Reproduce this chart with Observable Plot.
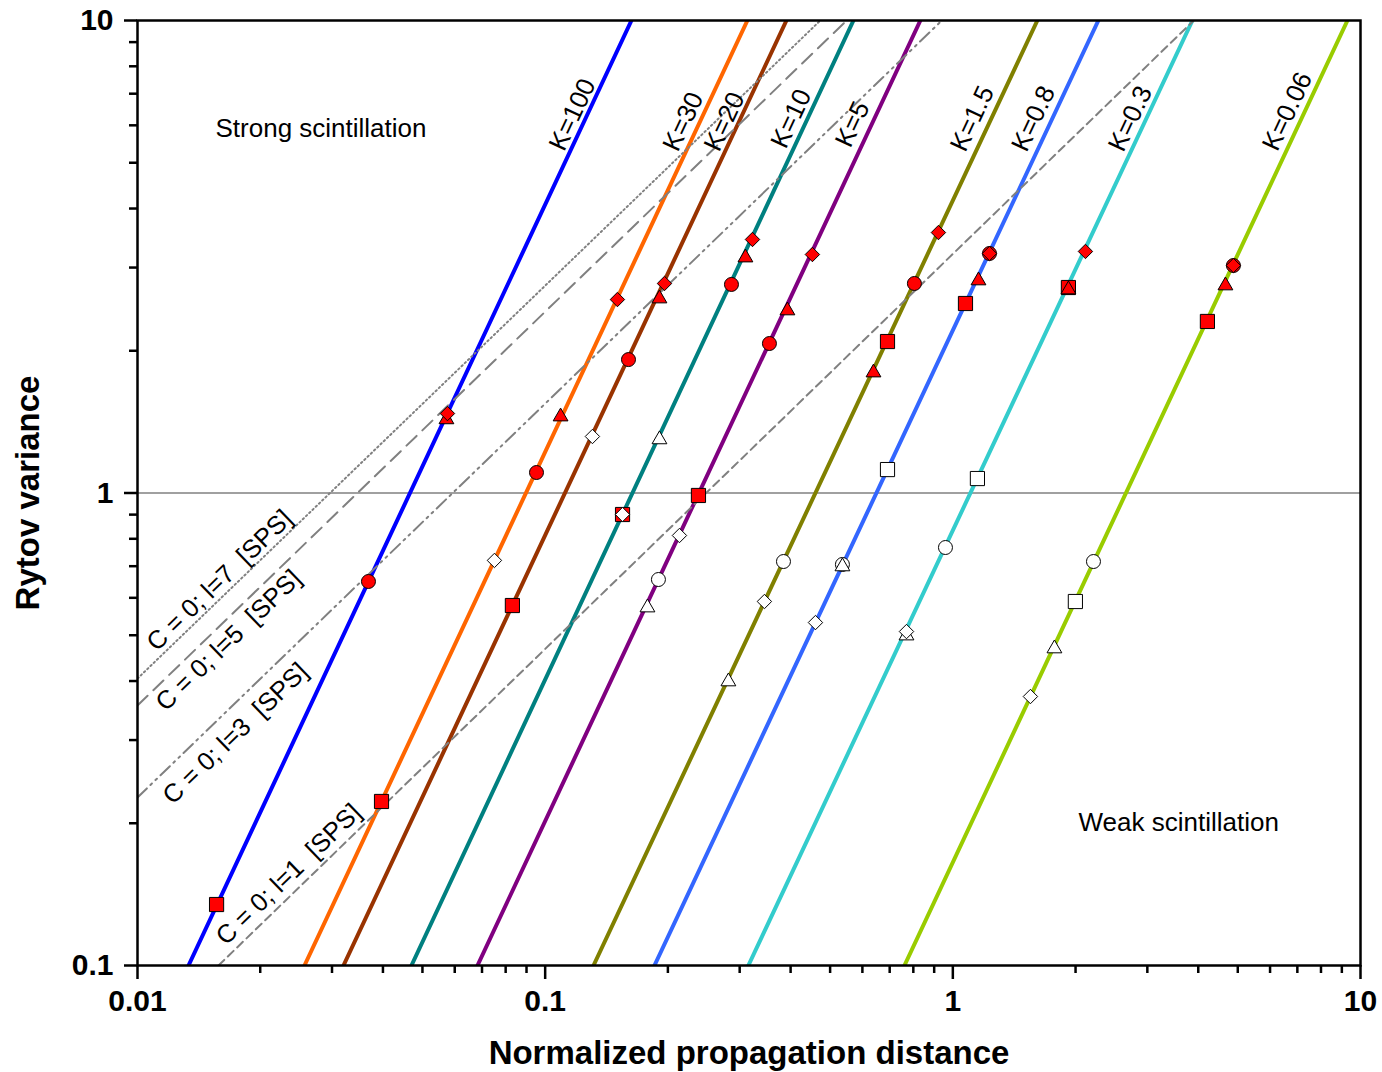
<!DOCTYPE html>
<html>
<head>
<meta charset="utf-8">
<script src="https://cdn.jsdelivr.net/npm/d3@7"></script>
<script src="https://cdn.jsdelivr.net/npm/@observablehq/plot@0.6"></script>
<style>
html, body { margin: 0; padding: 0; background: #fff; }
#chart svg text { white-space: pre; }
</style>
</head>
<body>
<div id="chart"></div>
<script>
// ---------- DATA ----------
// Rytov-variance lines for each K: x (normalized distance) read at variance 0.1 and at variance 10
const kValues = ["100", "30", "20", "10", "5", "1.5", "0.8", "0.3", "0.06"];
const kLineY = [0.1, 10];
const kXAtLow = [0.01334, 0.02568, 0.03201, 0.04699, 0.06823, 0.1314, 0.1854, 0.3151, 0.7609];
const kXAtHigh = [0.1628, 0.3134, 0.3907, 0.5705, 0.8325, 1.612, 2.275, 3.870, 9.29];
const kLabelX = [0.1167, 0.2183, 0.2754, 0.4018, 0.5677, 1.117, 1.577, 2.727, 6.62];
const kLabelY = [6.32, 6.11, 6.11, 6.20, 6.03, 6.20, 6.20, 6.20, 6.42];

// SPS reference lines (C = 0): two end points each
const spsNames = ["C = 0; l=7  [SPS]", "C = 0; l=5  [SPS]", "C = 0; l=3  [SPS]", "C = 0; l=1  [SPS]"];
const spsX1 = [0.01, 0.01, 0.01, 0.0158];
const spsY1 = [0.4049, 0.3551, 0.2268, 0.1];
const spsX2 = [0.4731, 0.549, 0.9397, 3.9];
const spsY2 = [10, 10, 10, 10];
const spsLabelX = [0.01589, 0.01672, 0.01739, 0.02347];
const spsLabelY = [0.6529, 0.4873, 0.3097, 0.1558];

// Filled (red) markers
const redSquareX = [0.01563, 0.03968, 0.0831, 0.1548, 0.2377, 0.6914, 1.074, 1.921, 4.212];
const redSquareY = [0.1346, 0.2224, 0.5779, 0.9005, 0.988, 2.092, 2.518, 2.722, 2.307];
const redCircleX = [0.03686, 0.09522, 0.1601, 0.2864, 0.3549, 0.8049, 1.230, 4.878];
const redCircleY = [0.6497, 1.105, 1.916, 2.763, 2.072, 2.776, 3.213, 3.030];
const redTriangleX = [0.05726, 0.1091, 0.1907, 0.3099, 0.3929, 0.6388, 1.156, 1.921, 4.663];
const redTriangleY = [1.431, 1.451, 2.579, 3.149, 2.433, 1.798, 2.816, 2.695, 2.748];
const redDiamondX = [0.05759, 0.1504, 0.1962, 0.3225, 0.4524, 0.9219, 1.230, 2.115, 4.878];
const redDiamondY = [1.473, 2.567, 2.776, 3.440, 3.197, 3.558, 3.213, 3.245, 3.030];

// Open (white) markers
const openSquareX = [0.6914, 1.149, 1.998];
const openSquareY = [1.121, 1.073, 0.5893];
const openCircleX = [0.1896, 0.3842, 0.5360, 0.9592, 2.213];
const openCircleY = [0.6560, 0.7161, 0.7059, 0.7667, 0.7161];
const openTriangleX = [0.1907, 0.1782, 0.2815, 0.5360, 0.7697, 1.775];
const openTriangleY = [1.298, 0.5721, 0.399, 0.6989, 0.4991, 0.4686];
const openDiamondX = [0.07509, 0.1306, 0.1548, 0.2135, 0.3450, 0.4603, 0.7697, 1.550];
const openDiamondY = [0.7199, 1.317, 0.9005, 0.8129, 0.5893, 0.5319, 0.5091, 0.3709];

const referenceVariance = [1];

// Axes
const xMajorTicks = [0.01, 0.1, 1, 10];
const xTickLabels = ["0.01", "0.1", "1", "10"];
const xMinorTicks = [0.02, 0.03, 0.04, 0.05, 0.06, 0.07, 0.08, 0.09,
                     0.2, 0.3, 0.4, 0.5, 0.6, 0.7, 0.8, 0.9,
                     2, 3, 4, 5, 6, 7, 8, 9];
const yMajorTicks = [0.1, 1, 10];
const yTickLabels = ["0.1", "1", "10"];
const yMinorTicks = [0.2, 0.3, 0.4, 0.5, 0.6, 0.7, 0.8, 0.9,
                     2, 3, 4, 5, 6, 7, 8, 9];
const xTitle = "Normalized propagation distance";
const yTitle = "Rytov variance";
const strongText = "Strong scintillation";
const weakText = "Weak scintillation";

// ---------- STYLES ----------
const kColors = ["#0000FF", "#FF6600", "#993300", "#008080", "#800080", "#808000", "#3366FF", "#33CCCC", "#99CC00"];
const spsDash = ["1.5,3", "14,8", "13,5,2,5,2,5", "8,5"];
const FONT = "'Liberation Sans', Arial, Helvetica, sans-serif";

// ---------- BUILD ----------
const zip = (xs, ys) => xs.map((x, i) => ({x, y: ys[i]}));

const kLineMarks = kValues.map((k, i) =>
  Plot.line([{x: kXAtLow[i], y: kLineY[0]}, {x: kXAtHigh[i], y: kLineY[1]}],
    {x: "x", y: "y", stroke: kColors[i], strokeWidth: 4, clip: true})
);
const spsLineMarks = spsNames.map((n, i) =>
  Plot.line([{x: spsX1[i], y: spsY1[i]}, {x: spsX2[i], y: spsY2[i]}],
    {x: "x", y: "y", stroke: "#808080", strokeWidth: 2, strokeDasharray: spsDash[i], clip: true})
);

const markerDefs = [
  {x: redSquareX, y: redSquareY, symbol: "square", r: 8, fill: "#FF0000"},
  {x: redCircleX, y: redCircleY, symbol: "circle", r: 7, fill: "#FF0000"},
  {x: redTriangleX, y: redTriangleY, symbol: "triangle", r: 5.5, fill: "#FF0000"},
  {x: redDiamondX, y: redDiamondY, symbol: "diamond2", r: 6.5, fill: "#FF0000"},
  {x: openSquareX, y: openSquareY, symbol: "square", r: 8, fill: "#FFFFFF"},
  {x: openCircleX, y: openCircleY, symbol: "circle", r: 7, fill: "#FFFFFF"},
  {x: openTriangleX, y: openTriangleY, symbol: "triangle", r: 5.5, fill: "#FFFFFF"},
  {x: openDiamondX, y: openDiamondY, symbol: "diamond2", r: 6.5, fill: "#FFFFFF"}
];
const markerMarks = markerDefs.map(m =>
  Plot.dot(zip(m.x, m.y), {x: "x", y: "y", symbol: m.symbol, r: m.r, fill: m.fill, stroke: "#000", strokeWidth: 1})
);

const kLabels = kValues.map((k, i) => ({text: "K=" + k, x: kLabelX[i], y: kLabelY[i]}));
const spsLabels = spsNames.map((n, i) => ({text: n, x: spsLabelX[i], y: spsLabelY[i]}));

const chart = Plot.plot({
  width: 1382,
  height: 1072,
  marginLeft: 137,
  marginRight: 22,
  marginTop: 20,
  marginBottom: 107,
  style: {fontFamily: FONT, background: "#fff", color: "#000"},
  x: {type: "log", domain: [0.01, 10], axis: null, label: null},
  y: {type: "log", domain: [0.1, 10], axis: null, label: null},
  marks: [
    Plot.ruleY(referenceVariance, {stroke: "#808080", strokeWidth: 1.5}),
    ...kLineMarks,
    ...spsLineMarks,
    Plot.text(kLabels, {x: "x", y: "y", text: "text", rotate: -64.8, fontSize: 26, fill: "#000"}),
    Plot.text(spsLabels, {x: "x", y: "y", text: "text", rotate: -44, fontSize: 25.5, fill: "#000"}),
    ...markerMarks,
    Plot.text([strongText], {frameAnchor: "top-left", dx: 78, dy: 116, textAnchor: "start", lineAnchor: "bottom", fontSize: 26, fill: "#000"}),
    Plot.text([weakText], {frameAnchor: "top-left", dx: 941, dy: 810, textAnchor: "start", lineAnchor: "bottom", fontSize: 26, fill: "#000"}),
    Plot.frame({stroke: "#000", strokeWidth: 2.5}),
    Plot.axisX(xMinorTicks, {anchor: "bottom", tickSize: 8, tickFormat: () => "", strokeWidth: 2.5, label: null}),
    Plot.axisX(xMajorTicks, {anchor: "bottom", tickSize: 14, tickPadding: 10,
      tickFormat: d => xTickLabels[xMajorTicks.indexOf(d)], fontSize: 30, fontWeight: "bold", strokeWidth: 2.5, label: null}),
    Plot.axisY(yMinorTicks, {anchor: "left", tickSize: 8, tickFormat: () => "", strokeWidth: 2.5, label: null}),
    Plot.axisY(yMajorTicks, {anchor: "left", tickSize: 13, tickPadding: 11,
      tickFormat: d => yTickLabels[yMajorTicks.indexOf(d)], fontSize: 30, fontWeight: "bold", strokeWidth: 2.5, label: null}),
    Plot.text([xTitle], {frameAnchor: "bottom", dy: 98, textAnchor: "middle", lineAnchor: "bottom", fontSize: 33, fontWeight: "bold", fill: "#000"}),
    Plot.text([yTitle], {frameAnchor: "left", dx: -109, rotate: -90, textAnchor: "middle", lineAnchor: "middle", fontSize: 33, fontWeight: "bold", fill: "#000"})
  ]
});
document.getElementById("chart").appendChild(chart);
</script>
</body>
</html>
